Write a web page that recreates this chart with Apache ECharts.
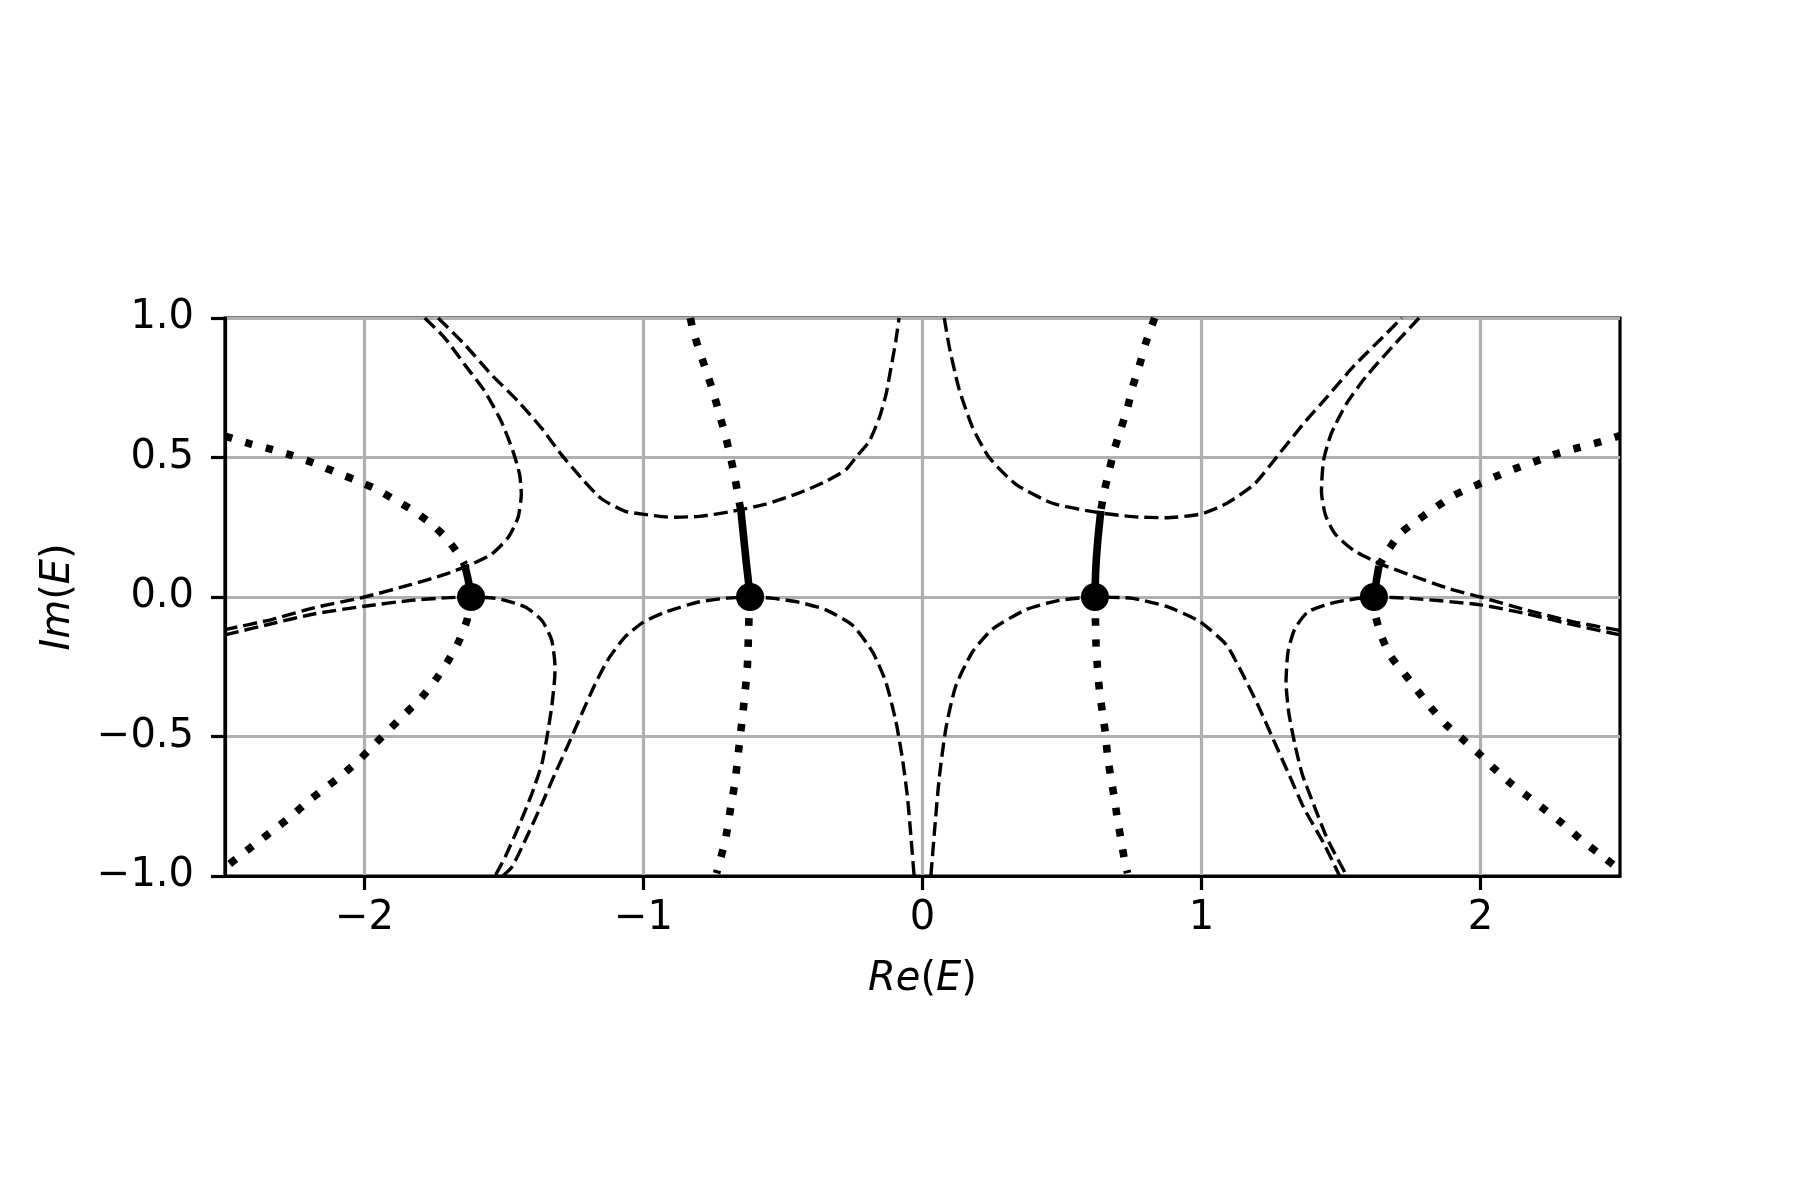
<!DOCTYPE html>
<html>
<head>
<meta charset="utf-8">
<script src="https://cdn.jsdelivr.net/npm/echarts@6/dist/echarts.min.js"></script>
<style>
  html, body { margin: 0; padding: 0; background: #ffffff; }
  #main { width: 1800px; height: 1200px; }
</style>
</head>
<body>
<div id="main"></div>
<script>
// tick positions
var xTicks = [-2, -1, 0, 1, 2]
var yTicks = [-1, -0.5, 0, 0.5, 1]

// points where the branches meet (on the real axis)
var points = [[-1.618, 0], [-0.618, 0], [0.618, 0], [1.618, 0]]

// dashed curves, left half
var dashOuterLeft = [[-1.784, 1.0], [-1.712, 0.928], [-1.641, 0.833], [-1.569, 0.737], [-1.51, 0.63], [-1.468, 0.523], [-1.444, 0.439], [-1.438, 0.368], [-1.45, 0.284], [-1.486, 0.212], [-1.545, 0.153], [-1.617, 0.117], [-1.712, 0.081], [-1.832, 0.045], [-2.0, 0.0], [-2.178, -0.038], [-2.33, -0.08], [-2.5, -0.117]]
var dashTopLeft = [[-1.736, 1.0], [-1.641, 0.905], [-1.545, 0.797], [-1.45, 0.702], [-1.366, 0.606], [-1.295, 0.511], [-1.223, 0.427], [-1.152, 0.353], [-1.068, 0.308], [-0.996, 0.296], [-0.901, 0.286], [-0.8, 0.289], [-0.681, 0.307], [-0.562, 0.333], [-0.442, 0.373], [-0.346, 0.415], [-0.275, 0.456], [-0.239, 0.5], [-0.191, 0.558], [-0.155, 0.642], [-0.131, 0.725], [-0.113, 0.821], [-0.096, 0.916], [-0.084, 1.0]]
var dashLoopLeft = [[-2.5, -0.136], [-2.33, -0.095], [-2.178, -0.06], [-2.0, -0.033], [-1.832, -0.012], [-1.712, -0.003], [-1.618, 0.0], [-1.52, -0.006], [-1.424, -0.036], [-1.364, -0.084], [-1.329, -0.155], [-1.317, -0.251], [-1.319, -0.299], [-1.329, -0.394], [-1.346, -0.502], [-1.364, -0.597], [-1.4, -0.705], [-1.448, -0.824], [-1.496, -0.932], [-1.532, -1.0]]
var dashLowLeft = [[-1.505, -1.0], [-1.472, -0.968], [-1.424, -0.872], [-1.364, -0.741], [-1.317, -0.633], [-1.263, -0.514], [-1.221, -0.418], [-1.173, -0.311], [-1.125, -0.221], [-1.066, -0.143], [-1.0, -0.09], [-0.922, -0.054], [-0.803, -0.018], [-0.7, -0.004], [-0.618, 0.0], [-0.535, -0.005], [-0.442, -0.019], [-0.346, -0.046], [-0.251, -0.101], [-0.179, -0.197], [-0.131, -0.306], [-0.096, -0.443], [-0.072, -0.579], [-0.054, -0.716], [-0.042, -0.852], [-0.03, -1.0]]

// dashed curves, right half
var dashOuterRight = [[1.78, 1.0], [1.684, 0.897], [1.588, 0.788], [1.519, 0.692], [1.464, 0.583], [1.437, 0.487], [1.43, 0.378], [1.444, 0.295], [1.478, 0.227], [1.547, 0.166], [1.643, 0.118], [1.753, 0.077], [1.89, 0.029], [2.0, 0.0], [2.165, -0.047], [2.33, -0.088], [2.5, -0.12]]
var dashTopRight = [[0.078, 1.0], [0.096, 0.896], [0.131, 0.746], [0.179, 0.609], [0.239, 0.5], [0.335, 0.404], [0.466, 0.336], [0.633, 0.302], [0.753, 0.288], [0.872, 0.284], [1.0, 0.298], [1.093, 0.337], [1.19, 0.405], [1.272, 0.505], [1.368, 0.624], [1.451, 0.718], [1.547, 0.829], [1.643, 0.925], [1.718, 1.0]]
var dashLoopRight = [[2.5, -0.136], [2.33, -0.099], [2.165, -0.06], [2.0, -0.028], [1.753, -0.005], [1.618, 0.0], [1.478, -0.019], [1.382, -0.053], [1.334, -0.115], [1.31, -0.197], [1.303, -0.306], [1.313, -0.416], [1.334, -0.525], [1.361, -0.635], [1.402, -0.744], [1.451, -0.867], [1.521, -1.0]]
var dashLowRight = [[0.03, -1.0], [0.042, -0.852], [0.06, -0.648], [0.084, -0.47], [0.119, -0.32], [0.179, -0.197], [0.251, -0.115], [0.37, -0.046], [0.49, -0.012], [0.618, 0.0], [0.753, -0.005], [0.872, -0.033], [0.992, -0.087], [1.087, -0.169], [1.135, -0.252], [1.203, -0.389], [1.258, -0.512], [1.313, -0.635], [1.368, -0.758], [1.437, -0.881], [1.495, -1.0]]

// dotted curves
var dotUpFarLeft = [[-2.5, 0.577], [-2.41, 0.549], [-2.333, 0.529], [-2.261, 0.508], [-2.184, 0.481], [-2.112, 0.451], [-2.037, 0.421], [-1.963, 0.389], [-1.894, 0.35], [-1.826, 0.31], [-1.763, 0.264], [-1.706, 0.21], [-1.659, 0.147], [-1.641, 0.115]]
var dotDownFarLeft = [[-1.618, 0.0], [-1.632, -0.081], [-1.66, -0.155], [-1.701, -0.23], [-1.742, -0.292], [-1.797, -0.362], [-1.852, -0.416], [-1.907, -0.471], [-1.962, -0.526], [-2.016, -0.581], [-2.078, -0.636], [-2.14, -0.684], [-2.202, -0.732], [-2.263, -0.786], [-2.325, -0.834], [-2.387, -0.882], [-2.449, -0.93], [-2.5, -0.97]]
var dotUpLeft = [[-0.832, 1.0], [-0.823, 0.958], [-0.8, 0.883], [-0.775, 0.81], [-0.75, 0.734], [-0.727, 0.652], [-0.706, 0.577], [-0.688, 0.501], [-0.672, 0.426], [-0.659, 0.351], [-0.651, 0.311]]
var dotDownLeft = [[-0.618, 0.0], [-0.621, -0.047], [-0.624, -0.142], [-0.628, -0.252], [-0.638, -0.362], [-0.647, -0.444], [-0.658, -0.54], [-0.672, -0.663], [-0.686, -0.745], [-0.706, -0.868], [-0.727, -0.95], [-0.738, -0.99]]
var dotUpRight = [[0.832, 1.0], [0.8, 0.91], [0.777, 0.828], [0.753, 0.753], [0.735, 0.678], [0.711, 0.602], [0.687, 0.527], [0.669, 0.452], [0.651, 0.377], [0.639, 0.309]]
var dotDownRight = [[0.618, 0.0], [0.62, -0.087], [0.622, -0.169], [0.627, -0.251], [0.634, -0.333], [0.645, -0.415], [0.655, -0.484], [0.663, -0.566], [0.675, -0.648], [0.687, -0.716], [0.699, -0.798], [0.711, -0.866], [0.725, -0.948], [0.735, -0.99]]
var dotUpFarRight = [[1.636, 0.111], [1.663, 0.159], [1.712, 0.227], [1.774, 0.275], [1.842, 0.323], [1.904, 0.364], [1.979, 0.398], [2.055, 0.432], [2.124, 0.46], [2.199, 0.487], [2.275, 0.514], [2.35, 0.535], [2.426, 0.555], [2.5, 0.578]]
var dotDownFarRight = [[1.618, 0.0], [1.622, -0.06], [1.643, -0.135], [1.677, -0.211], [1.725, -0.272], [1.773, -0.334], [1.821, -0.395], [1.876, -0.457], [1.931, -0.505], [1.993, -0.56], [2.048, -0.614], [2.11, -0.669], [2.172, -0.717], [2.234, -0.765], [2.295, -0.813], [2.357, -0.867], [2.419, -0.915], [2.481, -0.963], [2.5, -0.975]]

// thick solid pieces between the dashed curve and the points
var solidFarLeft = [[-1.641, 0.115], [-1.628, 0.06], [-1.618, 0.0]]
var solidLeft = [[-0.651, 0.311], [-0.641, 0.214], [-0.631, 0.118], [-0.621, 0.03], [-0.618, 0.0]]
var solidRight = [[0.639, 0.309], [0.628, 0.2], [0.621, 0.1], [0.618, 0.0]]
var solidFarRight = [[1.636, 0.111], [1.627, 0.06], [1.618, 0.0]]

var FONT = 'DejaVu Sans'
var FS = 40

function fmtMinus(v) {
  return v < 0 ? '\u2212' + Math.abs(v) : String(v)
}

function dashed(data) {
  return {
    type: 'line', data: data, symbol: 'none', smooth: 0.2, silent: true, z: 3,
    lineStyle: { color: '#000', width: 3.4, type: [14, 6], cap: 'butt' }
  }
}
function dotted(data) {
  return {
    type: 'line', data: data, symbol: 'none', smooth: 0.2, silent: true, z: 4,
    lineStyle: { color: '#000', width: 7.6, type: [7.6, 13.6], cap: 'butt' }
  }
}
function solid(data) {
  return {
    type: 'line', data: data, symbol: 'none', smooth: 0.2, silent: true, z: 4,
    lineStyle: { color: '#000', width: 7.6, type: 'solid' }
  }
}

var richName = {
  i: { fontFamily: FONT, fontSize: FS, fontStyle: 'italic', color: '#000' },
  n: { fontFamily: FONT, fontSize: FS, color: '#000' }
}

var chart = echarts.init(document.getElementById('main'), null, { renderer: 'canvas' })

var option = {
  animation: false,
  backgroundColor: '#ffffff',
  grid: {
    left: 225, right: 180, top: 318, bottom: 324,
    outerBoundsMode: 'none',
    show: true, borderColor: '#000', borderWidth: 3.2, backgroundColor: 'transparent'
  },
  xAxis: {
    type: 'value', min: -2.5, max: 2.5,
    name: '{i|Re}{n|(}{i|E}{n|)}', nameLocation: 'middle', nameGap: 84,
    nameTextStyle: { rich: richName },
    axisLine: { show: true, onZero: false, lineStyle: { color: '#000', width: 3.2 } },
    axisTick: { show: true, length: 14, customValues: xTicks, lineStyle: { color: '#000', width: 3.2 } },
    axisLabel: { customValues: xTicks, margin: 23, fontFamily: FONT, fontSize: FS, color: '#000', formatter: fmtMinus },
    splitLine: { show: true, lineStyle: { color: '#b0b0b0', width: 3.2 } }
  },
  yAxis: {
    type: 'value', min: -1, max: 1, interval: 0.5,
    name: '{i|Im}{n|(}{i|E}{n|)}', nameLocation: 'middle', nameGap: 146, nameRotate: 90,
    nameTextStyle: { rich: richName },
    axisLine: { show: true, onZero: false, lineStyle: { color: '#000', width: 3.2 } },
    axisTick: { show: true, length: 14, lineStyle: { color: '#000', width: 3.2 } },
    axisLabel: {
      margin: 31, fontFamily: FONT, fontSize: FS, color: '#000',
      formatter: function(v) { return (v < 0 ? '\u2212' : '') + Math.abs(v).toFixed(1) }
    },
    splitLine: { show: true, lineStyle: { color: '#b0b0b0', width: 3.2 } }
  },
  series: [
    dashed(dashOuterLeft), dashed(dashTopLeft), dashed(dashLoopLeft), dashed(dashLowLeft),
    dashed(dashOuterRight), dashed(dashTopRight), dashed(dashLoopRight), dashed(dashLowRight),
    dotted(dotUpFarLeft), dotted(dotDownFarLeft), dotted(dotUpLeft), dotted(dotDownLeft),
    dotted(dotUpRight), dotted(dotDownRight), dotted(dotUpFarRight), dotted(dotDownFarRight),
    solid(solidFarLeft), solid(solidLeft), solid(solidRight), solid(solidFarRight),
    {
      type: 'scatter', data: points, symbol: 'circle', symbolSize: 28, z: 6, silent: true,
      itemStyle: { color: '#000', opacity: 1 }
    }
  ]
}
chart.setOption(option)
</script>
</body>
</html>
